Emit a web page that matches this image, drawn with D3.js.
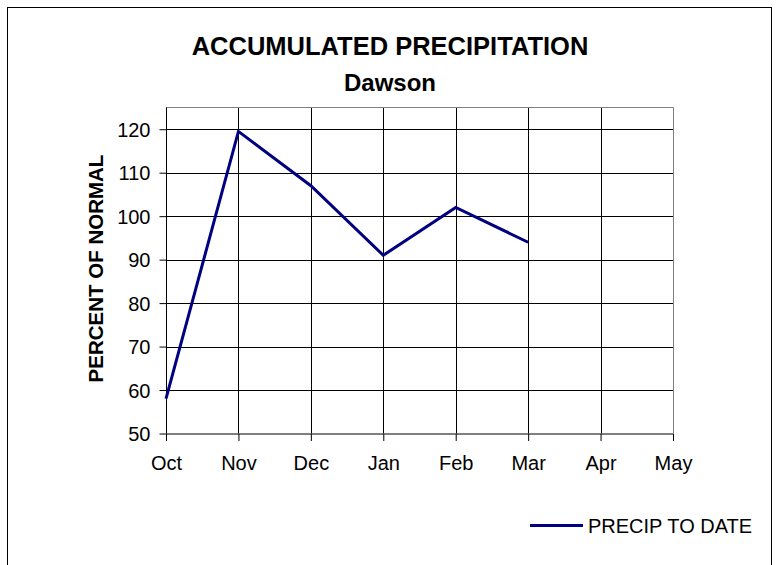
<!DOCTYPE html>
<html><head><meta charset="utf-8">
<script src="https://cdn.jsdelivr.net/npm/d3@7"></script>
<style>body{margin:0;background:#fff}svg{display:block}text{font-family:"Liberation Sans",Arial,sans-serif}</style>
</head><body>
<svg id="c" width="779" height="565"></svg>
<script>
const months = ["Oct","Nov","Dec","Jan","Feb","Mar","Apr","May"];
const precipMonths = ["Oct","Nov","Dec","Jan","Feb","Mar"];
const precipValues = [58, 119.5, 107, 91, 102, 94];
const yTicks = [50,60,70,80,90,100,110,120];
const titleText = "ACCUMULATED PRECIPITATION";
const subtitleText = "Dawson";
const yLabel = "PERCENT OF NORMAL";
const seriesName = "PRECIP TO DATE";

const svg = d3.select("#c");
svg.append("rect").attr("x",7.5).attr("y",7.5).attr("width",764).attr("height",600)
  .attr("fill","#fff").attr("stroke","#000").attr("stroke-width",1);

const L=166, R=673, T=107.5, B=433.5;
const x = d3.scalePoint().domain(months).range([L,R]);
const y = d3.scaleLinear().domain([50,125]).range([B,T]);

// grid
const g = svg.append("g");
g.selectAll("line.h").data(yTicks.slice(1)).join("line")
  .attr("x1",L).attr("x2",R).attr("y1",d=>Math.round(y(d))+0.5).attr("y2",d=>Math.round(y(d))+0.5)
  .attr("stroke","#000").attr("stroke-width",1);
g.selectAll("line.v").data(months.slice(1,-1)).join("line")
  .attr("x1",d=>Math.round(x(d))+0.5).attr("x2",d=>Math.round(x(d))+0.5).attr("y1",T).attr("y2",B)
  .attr("stroke","#000").attr("stroke-width",1);
// plot frame top/right grey
svg.append("path").attr("d",`M${L},${T}H${R+0.5}V${B}`).attr("fill","none").attr("stroke","#808080");

// axes
const yAxis = d3.axisLeft(y).tickValues(yTicks).tickSize(7).tickPadding(9);
const ya = svg.append("g").attr("transform",`translate(${L+0.5},0)`).call(yAxis);
ya.select(".domain").attr("stroke","#000").attr("d",`M0,${T}V${B}`);
ya.selectAll("text").attr("font-size",20).attr("fill","#000").attr("dy","0.35em");
const xAxis = d3.axisBottom(x).tickSize(7).tickPadding(16);
const xa = svg.append("g").attr("transform",`translate(0,${B+0.5})`).call(xAxis);
xa.select(".domain").attr("stroke","#000").attr("d",`M${L},0H${R+0.5}`);
xa.selectAll("text").attr("font-size",20).attr("fill","#000").attr("dy",null).attr("y",36);
svg.selectAll(".tick line").attr("stroke","#000");

// line
const line = d3.line().x((d,i)=>x(precipMonths[i])).y(d=>y(d));
svg.append("path").datum(precipValues).attr("d",line).attr("fill","none")
  .attr("stroke","#000080").attr("stroke-width",3).attr("stroke-linejoin","miter");

// titles
svg.append("text").attr("x",390).attr("y",55).attr("text-anchor","middle")
  .attr("font-size",25.5).attr("font-weight","bold").text(titleText);
svg.append("text").attr("x",390).attr("y",91).attr("text-anchor","middle")
  .attr("font-size",24).attr("font-weight","bold").text(subtitleText);
svg.append("text").attr("transform",`translate(103,${(155+382)/2}) rotate(-90)`).attr("text-anchor","middle")
  .attr("font-size",20.5).attr("font-weight","bold").text(yLabel);

// legend
svg.append("line").attr("x1",530).attr("x2",583).attr("y1",525.5).attr("y2",525.5)
  .attr("stroke","#000080").attr("stroke-width",3);
svg.append("text").attr("x",588).attr("y",532.5).attr("font-size",20).text(seriesName);
</script>
</body></html>
